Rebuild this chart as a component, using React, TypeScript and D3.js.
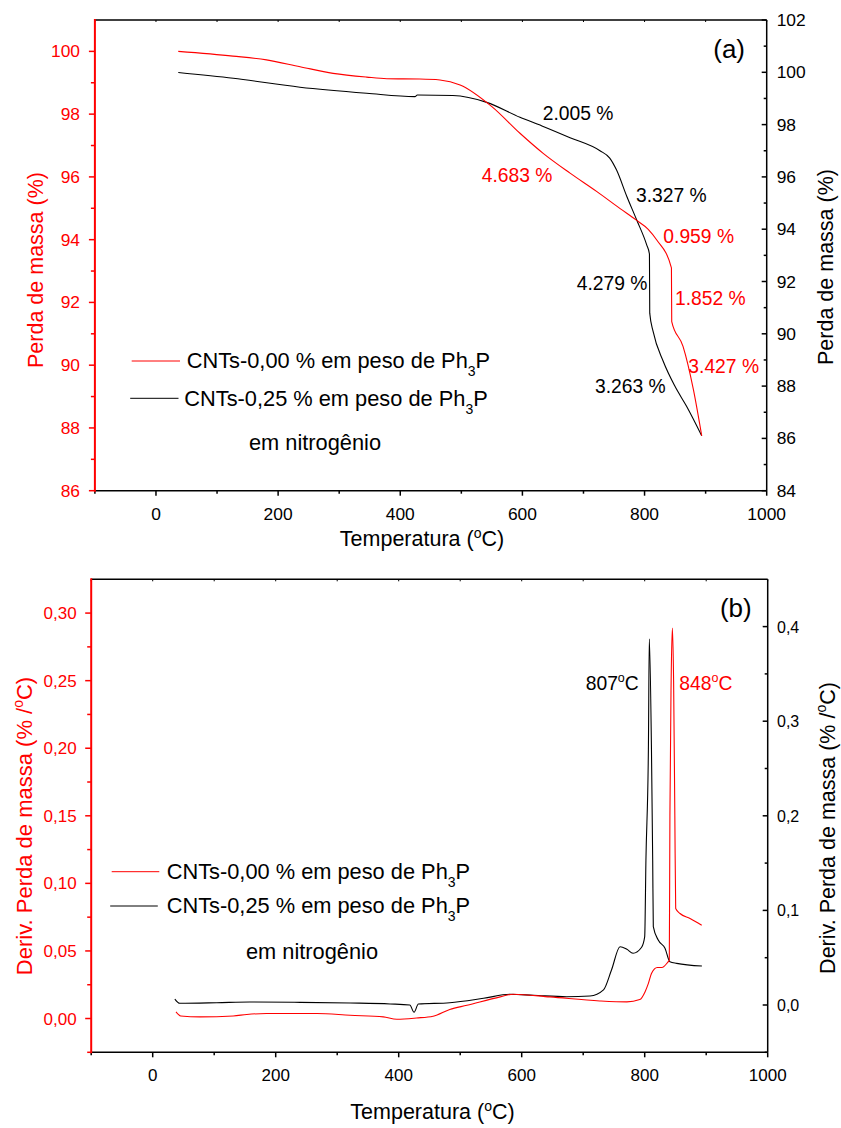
import React from 'react';
import * as d3 from 'd3';

// ---------- DATA ----------
// Panel (a) TGA, CNTs-0,00 % (red, left axis)
const tgaRedT = [36.5, 126, 181, 236, 290, 345, 378, 432, 465, 498, 550, 596, 634, 678, 722, 760, 786, 806, 820, 844, 844.5, 863, 880, 893.6];
const tgaRedV = [100.0, 99.85, 99.73, 99.51, 99.3, 99.18, 99.13, 99.12, 99.09, 98.93, 98.24, 97.39, 96.75, 96.12, 95.53, 94.99, 94.63, 94.33, 93.99, 93.1, 91.39, 90.6, 89.22, 87.75];
// Panel (a) TGA, CNTs-0,25 % (black, right axis)
const tgaBlackT = [36.5, 126.6, 235.8, 345, 424, 428, 486, 541.5, 596, 632, 678, 727, 743, 754, 771, 787, 803.5, 808, 808.5, 814, 830.7, 849.8, 869, 893.6];
const tgaBlackV = [99.99, 99.77, 99.43, 99.2, 99.07, 99.13, 99.11, 98.85, 98.28, 97.95, 97.5, 97.0, 96.72, 96.27, 95.25, 94.36, 93.4, 93.05, 90.79, 90.09, 88.94, 87.99, 87.22, 86.1];
// Panel (b) DTG, CNTs-0,00 % (red, left axis)
const dtgRedT = [37.9, 45.5, 77, 131, 153, 185, 267, 321, 375, 397, 429, 456, 483, 511, 565, 586, 646, 727, 771, 792, 800.5, 806, 811, 820.5, 828, 838, 840, 841, 843, 845, 847, 849, 850.4, 857.4, 873.7, 892.7];
const dtgRedV = [0.0049, 0.0019, 0.0012, 0.0019, 0.003, 0.0037, 0.0037, 0.0024, 0.0012, -0.0005, 0.0004, 0.0017, 0.0067, 0.0098, 0.016, 0.018, 0.016, 0.013, 0.0123, 0.014, 0.0197, 0.026, 0.0333, 0.0377, 0.0377, 0.0419, 0.043, 0.15, 0.25, 0.289, 0.25, 0.15, 0.0814, 0.0777, 0.074, 0.069];
// Panel (b) DTG, CNTs-0,25 % (black, right axis)
const dtgBlackT = [36, 44, 104, 158, 240, 321, 386, 418, 425, 432, 483, 538, 581, 619, 673, 711, 733, 746, 760, 771, 781, 795, 800, 802, 806, 807.5, 811, 813, 814, 822, 833, 841, 852, 893];
const dtgBlackV = [0.0063, 0.0018, 0.0024, 0.0032, 0.0028, 0.0021, 0.0011, 0.0, -0.0077, 0.001, 0.0024, 0.0071, 0.0113, 0.0103, 0.0088, 0.0095, 0.016, 0.037, 0.0616, 0.0589, 0.0547, 0.061, 0.0722, 0.153, 0.27, 0.387, 0.27, 0.153, 0.0828, 0.0687, 0.06, 0.0458, 0.044, 0.0412];

const xMajor = [0, 200, 400, 600, 800, 1000];
const xMinor = [-100, 100, 300, 500, 700, 900];
const xTop = [-100, 0, 100, 200, 300, 400, 500, 600, 700, 800, 900, 1000];
const aLeftMajor = [86, 88, 90, 92, 94, 96, 98, 100];
const aLeftMinor = [87, 89, 91, 93, 95, 97, 99];
const aRightMajor = [84, 86, 88, 90, 92, 94, 96, 98, 100, 102];
const aRightMinor = [85, 87, 89, 91, 93, 95, 97, 99, 101];
const bLeftMajor = [0, 0.05, 0.1, 0.15, 0.2, 0.25, 0.3];
const bLeftMinor = [-0.025, 0.025, 0.075, 0.125, 0.175, 0.225, 0.275];
const bRightMajor = [0, 0.1, 0.2, 0.3, 0.4];
const bRightMinor = [-0.05, 0.05, 0.15, 0.25, 0.35];

const annTextsA = ['2.005 %', '4.683 %', '3.327 %', '0.959 %', '4.279 %', '1.852 %', '3.427 %', '3.263 %'];
const annColorsA = ['#000', '#f00', '#000', '#f00', '#000', '#f00', '#f00', '#000'];

const FONT = "'Liberation Sans', Arial, Helvetica, sans-serif";
const RED = '#ff0000';

const zip = (a: number[], b: number[]) => a.map((t, i) => [t, b[i]] as [number, number]);

export default function App() {
  const xA = d3.scaleLinear().domain([-100, 1000]).range([94.9, 766.7]);
  const yAL = d3.scaleLinear().domain([86, 101]).range([490.7, 20]);
  const yAR = d3.scaleLinear().domain([84, 102]).range([490.7, 20]);
  const xB = d3.scaleLinear().domain([-100, 1000]).range([91.2, 767.7]);
  const yBL = d3.scaleLinear().domain([-0.025, 0.325]).range([1052.3, 579.3]);
  const yBR = d3.scaleLinear().domain([-0.05, 0.45]).range([1052.3, 579.3]);

  const mkLine = (x: any, y: any) =>
    d3.line<[number, number]>().x(d => x(d[0])).y(d => y(d[1])).curve(d3.curveMonotoneX);

  const fmt2 = (v: number) => v.toFixed(2).replace('.', ',');
  const fmt1 = (v: number) => v.toFixed(1).replace('.', ',');

  const panel = (
    x: any, yL: any, yR: any,
    lMaj: number[], lMin: number[], rMaj: number[], rMin: number[],
    fmtL: (v: number) => string, fmtR: (v: number) => string,
    leftLabelX: number, rightLabelX: number, tickFontL: number, tickFontR: number, xLabelDy: number, key: string
  ) => {
    const [x0, x1] = x.range();
    const [yb, yt] = yL.range();
    return (
      <g key={key}>
        <line x1={x0} x2={x1} y1={yt} y2={yt} stroke="#000" strokeWidth={1.5} />
        {xTop.map(t => (
          <line key={'tt' + t} x1={x(t)} x2={x(t)} y1={yt} y2={yt + 2} stroke="#000" strokeWidth={1} />
        ))}
        <line x1={x0} x2={x1} y1={yb} y2={yb} stroke="#000" strokeWidth={1.5} />
        {xMajor.map(t => (
          <g key={'xm' + t}>
            <line x1={x(t)} x2={x(t)} y1={yb} y2={yb + 5} stroke="#000" strokeWidth={1.5} />
            <text x={x(t)} y={yb + xLabelDy} textAnchor="middle" fontSize={tickFontL} fontFamily={FONT} fill="#000">{t}</text>
          </g>
        ))}
        {xMinor.map(t => (
          <line key={'xn' + t} x1={x(t)} x2={x(t)} y1={yb} y2={yb + 3} stroke="#000" strokeWidth={1.5} />
        ))}
        <line x1={x1} x2={x1} y1={yt} y2={yb} stroke="#000" strokeWidth={1.5} />
        {rMaj.map(v => (
          <g key={'rm' + v}>
            <line x1={x1 - 5} x2={x1} y1={yR(v)} y2={yR(v)} stroke="#000" strokeWidth={1.5} />
            <text x={rightLabelX} y={yR(v) + 6} textAnchor="start" fontSize={tickFontR} fontFamily={FONT} fill="#000">{fmtR(v)}</text>
          </g>
        ))}
        {rMin.map(v => (
          <line key={'rn' + v} x1={x1 - 3} x2={x1} y1={yR(v)} y2={yR(v)} stroke="#000" strokeWidth={1.5} />
        ))}
        <line x1={x0} x2={x0} y1={yt - 1} y2={yb + 1} stroke={RED} strokeWidth={2} />
        {lMaj.map(v => (
          <g key={'lm' + v}>
            <line x1={x0 - 6} x2={x0} y1={yL(v)} y2={yL(v)} stroke={RED} strokeWidth={1.5} />
            <text x={leftLabelX} y={yL(v) + 6} textAnchor="end" fontSize={tickFontL} fontFamily={FONT} fill={RED}>{fmtL(v)}</text>
          </g>
        ))}
        {lMin.map(v => (
          <line key={'ln' + v} x1={x0 - 4} x2={x0} y1={yL(v)} y2={yL(v)} stroke={RED} strokeWidth={1.5} />
        ))}
      </g>
    );
  };

  const legend = (lx0: number, lx1: number, y1: number, y2: number, tx1: number, tx2: number, ty1: number, ty2: number, nx: number, ny: number, fs: number) => (
    <g fontFamily={FONT} fontSize={fs} fill="#000">
      <line x1={lx0} x2={lx1} y1={y1} y2={y1} stroke={RED} strokeWidth={1} />
      <line x1={lx0 - 1.5} x2={lx1 - 1.5} y1={y2} y2={y2} stroke="#000" strokeWidth={1} />
      <text x={tx1} y={ty1}>CNTs-0,00 % em peso de Ph<tspan dy={8} fontSize={14}>3</tspan><tspan dy={-8}>P</tspan></text>
      <text x={tx2} y={ty2}>CNTs-0,25 % em peso de Ph<tspan dy={8} fontSize={14}>3</tspan><tspan dy={-8}>P</tspan></text>
      <text x={nx} y={ny}>em nitrogênio</text>
    </g>
  );

  const lineARed = mkLine(xA, yAL)(zip(tgaRedT, tgaRedV)) || '';
  const lineABlack = mkLine(xA, yAR)(zip(tgaBlackT, tgaBlackV)) || '';
  const lineBRed = mkLine(xB, yBL)(zip(dtgRedT, dtgRedV)) || '';
  const lineBBlack = mkLine(xB, yBR)(zip(dtgBlackT, dtgBlackV)) || '';

  const annPos = [
    [542.7, 120], [481.7, 181.7], [636, 201.7], [663.3, 242.7],
    [576.7, 290], [675, 305], [688.3, 372.7], [595, 392.7],
  ];

  return (
    <svg width={841} height={1128} style={{ position: 'absolute', left: 0, top: 0, display: 'block', background: '#fff' }}>
      <rect width={841} height={1128} fill="#fff" />
      {/* ---------- Panel (a) ---------- */}
      {panel(xA, yAL, yAR, aLeftMajor, aLeftMinor, aRightMajor, aRightMinor, v => String(v), v => String(v), 80, 776.7, 17.4, 17.4, 29.3, 'a')}
      <path d={lineABlack} fill="none" stroke="#000" strokeWidth={1.1} />
      <path d={lineARed} fill="none" stroke={RED} strokeWidth={1.1} />
      {legend(131.7, 180, 361, 398.3, 186.7, 184.3, 368, 405.7, 249, 450, 21.8)}
      {annTextsA.map((t, i) => (
        <text key={t + i} x={annPos[i][0]} y={annPos[i][1]} fontSize={19.3} fontFamily={FONT} fill={annColorsA[i]}>{t}</text>
      ))}
      <text x={745} y={58} textAnchor="end" fontSize={26} fontFamily={FONT}>(a)</text>
      <text x={422} y={546} textAnchor="middle" fontSize={21.5} fontFamily={FONT}>Temperatura (<tspan dy={-8.5} fontSize={14}>o</tspan><tspan dy={8.5}>C)</tspan></text>
      <text transform="translate(43,270) rotate(-90)" textAnchor="middle" fontSize={21.5} fontFamily={FONT} fill={RED}>Perda de massa (%)</text>
      <text transform="translate(833,267) rotate(-90)" textAnchor="middle" fontSize={21.5} fontFamily={FONT} fill="#000">Perda de massa (%)</text>

      {/* ---------- Panel (b) ---------- */}
      {panel(xB, yBL, yBR, bLeftMajor, bLeftMinor, bRightMajor, bRightMinor, fmt2, fmt1, 76.7, 777, 17, 16, 29, 'b')}
      <path d={lineBBlack} fill="none" stroke="#000" strokeWidth={1.1} />
      <path d={lineBRed} fill="none" stroke={RED} strokeWidth={1.1} />
      {legend(111.7, 159.3, 871.7, 906, 166.7, 166.7, 879.3, 913.3, 246, 959, 21.8)}
      <text x={751.7} y={616.7} textAnchor="end" fontSize={26} fontFamily={FONT}>(b)</text>
      <text x={585.7} y={690} fontSize={19.3} fontFamily={FONT} fill="#000">807<tspan dy={-8} fontSize={12.5}>o</tspan><tspan dy={8}>C</tspan></text>
      <text x={679.3} y={690} fontSize={19.3} fontFamily={FONT} fill={RED}>848<tspan dy={-8} fontSize={12.5}>o</tspan><tspan dy={8}>C</tspan></text>
      <text x={432.5} y={1119} textAnchor="middle" fontSize={21.5} fontFamily={FONT}>Temperatura (<tspan dy={-8.5} fontSize={14}>o</tspan><tspan dy={8.5}>C)</tspan></text>
      <text transform="translate(31.5,826) rotate(-90)" textAnchor="middle" fontSize={22} fontFamily={FONT} fill={RED}>Deriv. Perda de massa (% /<tspan dy={-8.5} fontSize={14}>o</tspan><tspan dy={8.5}>C)</tspan></text>
      <text transform="translate(834.5,828) rotate(-90)" textAnchor="middle" fontSize={21.5} fontFamily={FONT} fill="#000">Deriv. Perda de massa (% /<tspan dy={-8.5} fontSize={14}>o</tspan><tspan dy={8.5}>C)</tspan></text>
    </svg>
  );
}
